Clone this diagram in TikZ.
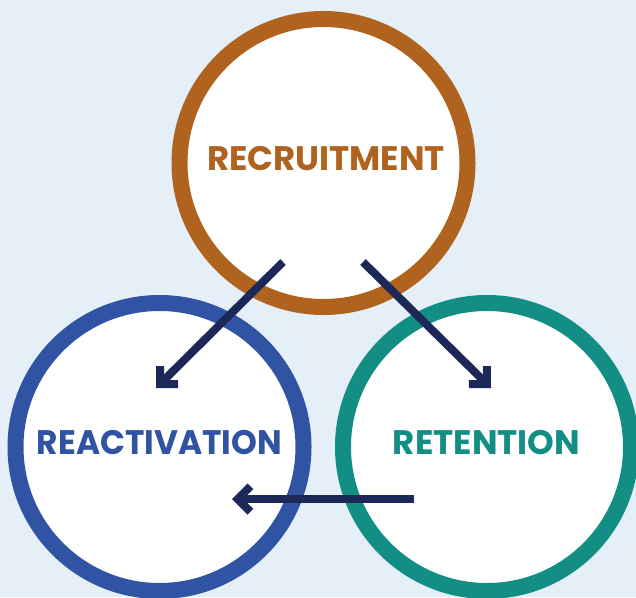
\documentclass[tikz,border=0pt]{standalone}
\usepackage{fontspec}
\newfontfamily\ringfont{Poppins}
\usetikzlibrary{arrows.meta}

\definecolor{bgblue}{HTML}{E4EFF7}
\definecolor{ringbrown}{HTML}{AF631E}
\definecolor{ringblue}{HTML}{3053A3}
\definecolor{ringteal}{HTML}{128E84}
\definecolor{arrownavy}{HTML}{1C2858}

\begin{document}
\begin{tikzpicture}[x=1pt,y=-1pt,
  ring/.style={circle, fill=white, line width=16pt, minimum size=288pt, inner sep=0pt},
  ringlabel/.style={font=\ringfont\bfseries\fontsize{34}{34}\selectfont, inner sep=0pt, anchor=center},
  flow/.style={draw=arrownavy, line width=8pt, line cap=butt,
    -{Straight Barb[angle=90:18pt, line join=miter]}}]

  % page and background
  \useasboundingbox (0,0) rectangle (636,597);
  \fill[bgblue] (0,0) rectangle (636,597);
  \clip (0,0) rectangle (636,597);

  % the three stages
  \node[ring, draw=ringbrown] (recruit) at (323.5,163) {};
  \node[ring, draw=ringblue]  (react)   at (159.5,447) {};
  \node[ring, draw=ringteal]  (retain)  at (487,447)   {};

  \node[ringlabel, text=ringbrown] (recruitText) at (326,159)   {RECRUITMENT};
  \node[ringlabel, text=ringblue]  (reactText)   at (159.5,443) {\scalebox{0.965}[1]{REACTIVATION}};
  \node[ringlabel, text=ringteal]  (retainText)  at (486.5,443) {RETENTION};

  % arrow end points
  \coordinate (a1s) at (283,262);
  \coordinate (a1e) at (156,388);
  \coordinate (a2s) at (363,262);
  \coordinate (a2e) at (491,388);
  \coordinate (a3s) at (414,499);
  \coordinate (a3e) at (232,499);

  \draw[flow] (a1s) -- (a1e);
  \draw[flow] (a2s) -- (a2e);
  \draw[flow] (a3s) -- (a3e);
\end{tikzpicture}
\end{document}
